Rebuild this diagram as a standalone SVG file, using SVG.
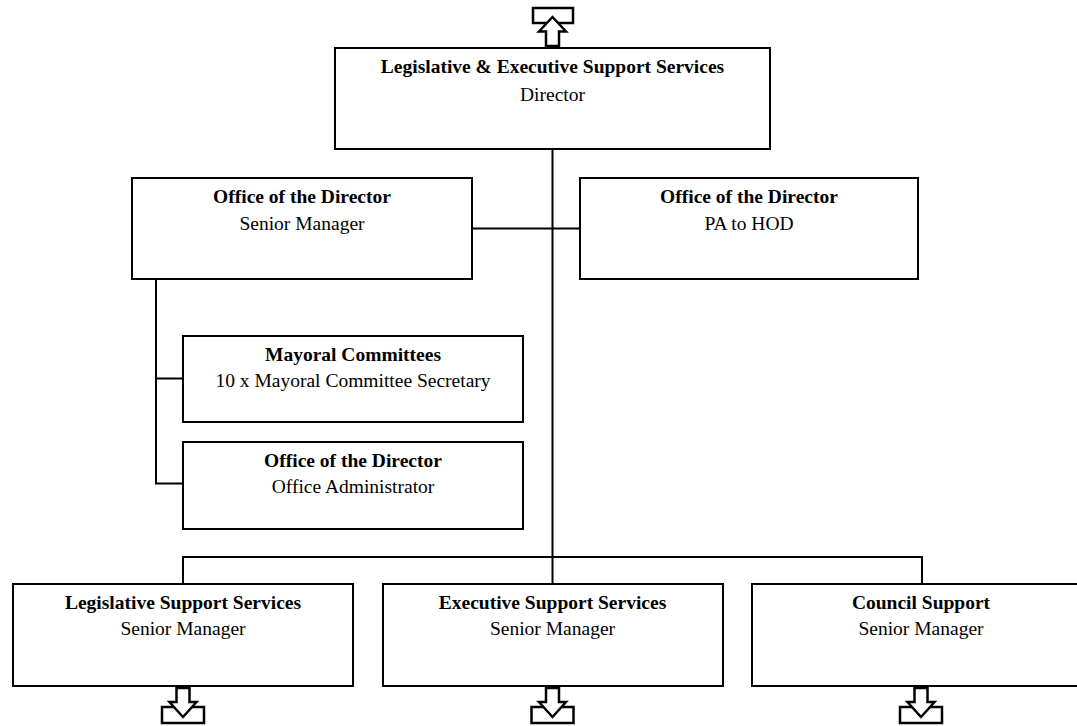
<svg xmlns="http://www.w3.org/2000/svg" width="1077" height="726" viewBox="0 0 1077 726">
  <style>
    .box { fill: #ffffff; stroke: #000000; stroke-width: 2; }
    .wire { fill: none; stroke: #000000; stroke-width: 2; }
    .ico { fill: #ffffff; stroke: #000000; stroke-width: 2.5; stroke-linejoin: miter; }
    text { font-family: "Liberation Serif", "Times New Roman", serif; font-size: 19.5px; fill: #000000; text-anchor: middle; }
    .t { font-weight: bold; }
  </style>
  <defs>
    <!-- "continues below" marker: frame with a downward arrow -->
    <g id="down-mark">
      <rect class="ico" x="-21" y="19" width="42" height="16"/>
      <path class="ico" d="M -6.5 0 L 6.5 0 L 6.5 14 L 13.5 14 L 0 29 L -13.5 14 L -6.5 14 Z"/>
    </g>
  </defs>
  <rect width="1077" height="726" fill="#ffffff"/>

  <!-- connectors -->
  <g id="connectors">
    <path class="wire" d="M 552.5 149 V 557"/>
    <path class="wire" d="M 472 228.5 H 580"/>
    <path class="wire" d="M 156 279 V 483.5 H 183"/>
    <path class="wire" d="M 156 378.5 H 183"/>
    <path class="wire" d="M 183 584 V 557 H 922 V 584"/>
    <path class="wire" d="M 552.5 557 V 584"/>
  </g>

  <!-- "reports upward" marker above the top box -->
  <g id="up-mark">
    <rect class="ico" x="533" y="8" width="40" height="15"/>
    <path class="ico" d="M 546 46 L 559 46 L 559 31.5 L 566 31.5 L 552.5 17 L 539 31.5 L 546 31.5 Z"/>
  </g>

  <g id="director">
    <rect class="box" x="335" y="48" width="435" height="101"/>
    <text class="t" x="552.5" y="73">Legislative &amp; Executive Support Services</text>
    <text x="552.5" y="101">Director</text>
  </g>

  <g id="office-senior-manager">
    <rect class="box" x="132" y="178" width="340" height="101"/>
    <text class="t" x="302" y="203">Office of the Director</text>
    <text x="302" y="230">Senior Manager</text>
  </g>

  <g id="office-pa">
    <rect class="box" x="580" y="178" width="338" height="101"/>
    <text class="t" x="749" y="203">Office of the Director</text>
    <text x="749" y="230">PA to HOD</text>
  </g>

  <g id="mayoral-committees">
    <rect class="box" x="183" y="336" width="340" height="86"/>
    <text class="t" x="353" y="361">Mayoral Committees</text>
    <text x="353" y="387">10 x Mayoral Committee Secretary</text>
  </g>

  <g id="office-administrator">
    <rect class="box" x="183" y="442" width="340" height="87"/>
    <text class="t" x="353" y="467">Office of the Director</text>
    <text x="353" y="493">Office Administrator</text>
  </g>

  <g id="legislative-support">
    <rect class="box" x="13" y="584" width="340" height="102"/>
    <text class="t" x="183" y="609">Legislative Support Services</text>
    <text x="183" y="635">Senior Manager</text>
    <use href="#down-mark" x="183" y="688"/>
  </g>

  <g id="executive-support">
    <rect class="box" x="383" y="584" width="340" height="102"/>
    <text class="t" x="552.5" y="609">Executive Support Services</text>
    <text x="552.5" y="635">Senior Manager</text>
    <use href="#down-mark" x="552.5" y="688"/>
  </g>

  <g id="council-support">
    <rect class="box" x="752" y="584" width="340" height="102"/>
    <text class="t" x="921" y="609">Council Support</text>
    <text x="921" y="635">Senior Manager</text>
    <use href="#down-mark" x="921" y="688"/>
  </g>
</svg>
